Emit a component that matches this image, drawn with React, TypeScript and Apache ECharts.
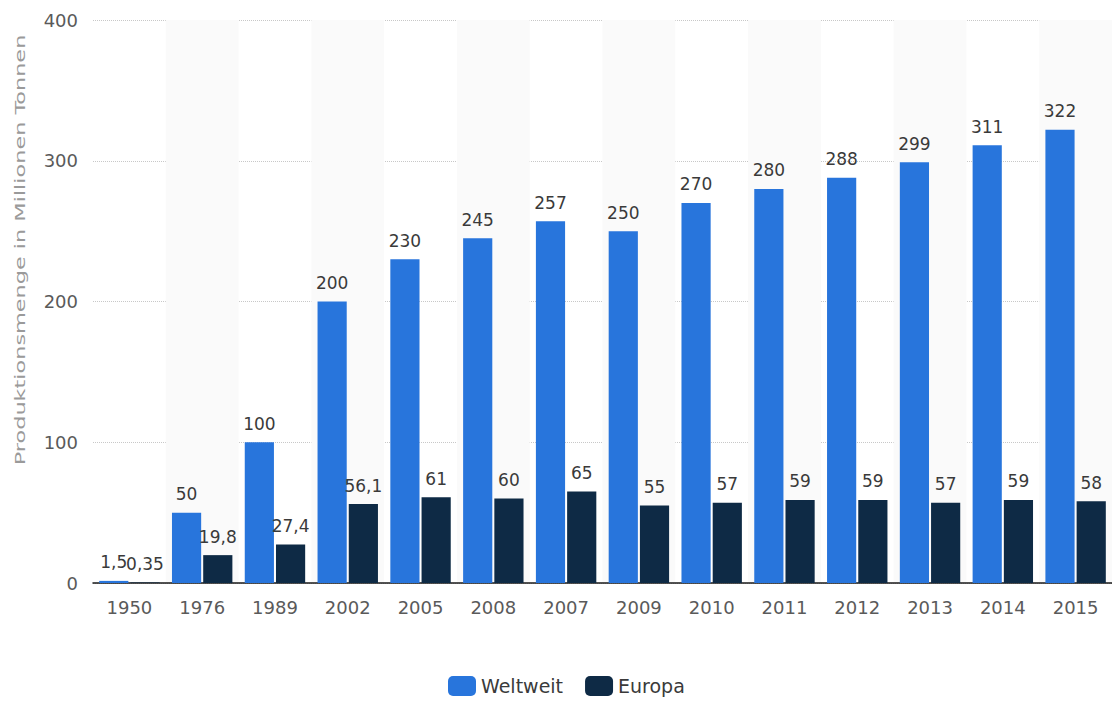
import React, { useEffect, useRef } from "react";
import * as echarts from "echarts";

const years = ["1950", "1976", "1989", "2002", "2005", "2008", "2007", "2009", "2010", "2011", "2012", "2013", "2014", "2015"];
const weltweit = [1.5, 50, 100, 200, 230, 245, 257, 250, 270, 280, 288, 299, 311, 322];
const europa = [0.35, 19.8, 27.4, 56.1, 61, 60, 65, 55, 57, 59, 59, 57, 59, 58];
const yTicks = { min: 0, max: 400, interval: 100 };
const yAxisTitle = "Produktionsmenge in Millionen Tonnen";

const FONT = "'DejaVu Sans', Verdana, sans-serif";

const fmt = (v: number) => String(v).replace(".", ",");

export default function App() {
  const ref = useRef<HTMLDivElement>(null);
  useEffect(() => {
    document.body.style.margin = "0";
    const chart = echarts.init(ref.current!, undefined, { renderer: "svg" });
    const label = {
      show: true,
      position: "top" as const,
      distance: 10,
      color: "#3a3a3a",
      fontSize: 17,
      fontFamily: FONT,
      formatter: (p: any) => fmt(p.value),
    };
    chart.setOption({
      animation: false,
      textStyle: { fontFamily: FONT },
      grid: { left: 93, right: 0, top: 20, bottom: 119, containLabel: false },
      graphic: [
        {
          type: "text",
          x: 20,
          y: 250,
          rotation: Math.PI / 2,
          scaleX: 1.6,
          style: {
            text: yAxisTitle,
            fontSize: 14,
            fontFamily: FONT,
            fill: "#9a9a9a",
            align: "center",
            verticalAlign: "middle",
          },
        },
      ],
      legend: {
        bottom: 1,
        left: 443,
        itemWidth: 28,
        itemHeight: 20,
        itemGap: 22,
        icon: "roundRect",
        textStyle: { fontSize: 19, color: "#3a3a3a", fontFamily: FONT },
        data: ["Weltweit", "Europa"],
      },
      xAxis: {
        type: "category",
        data: years,
        axisLine: { show: true, lineStyle: { color: "#1a1a1a", width: 1.5 } },
        axisTick: { show: false },
        axisLabel: { color: "#5a5a5a", fontSize: 18, margin: 15, fontFamily: FONT },
        splitArea: { show: true, areaStyle: { color: ["rgba(255,255,255,0)", "#fafafa"] } },
      },
      yAxis: {
        type: "value",
        min: yTicks.min,
        max: yTicks.max,
        interval: yTicks.interval,
        axisLine: { show: false },
        axisTick: { show: false },
        axisLabel: { color: "#5a5a5a", fontSize: 18, margin: 15, fontFamily: FONT },
        splitLine: { show: true, lineStyle: { color: "#c8c8c8", type: "dotted", width: 1 } },
      },
      series: [
        {
          name: "Weltweit",
          type: "bar",
          data: weltweit,
          itemStyle: { color: "#2875dc" },
          barGap: "7%",
          barCategoryGap: "17%",
          label,
        },
        {
          name: "Europa",
          type: "bar",
          data: europa,
          itemStyle: { color: "#0e2a45" },
          label,
        },
      ],
    });
    return () => chart.dispose();
  }, []);
  return <div ref={ref} style={{ width: 1112, height: 702 }} />;
}
